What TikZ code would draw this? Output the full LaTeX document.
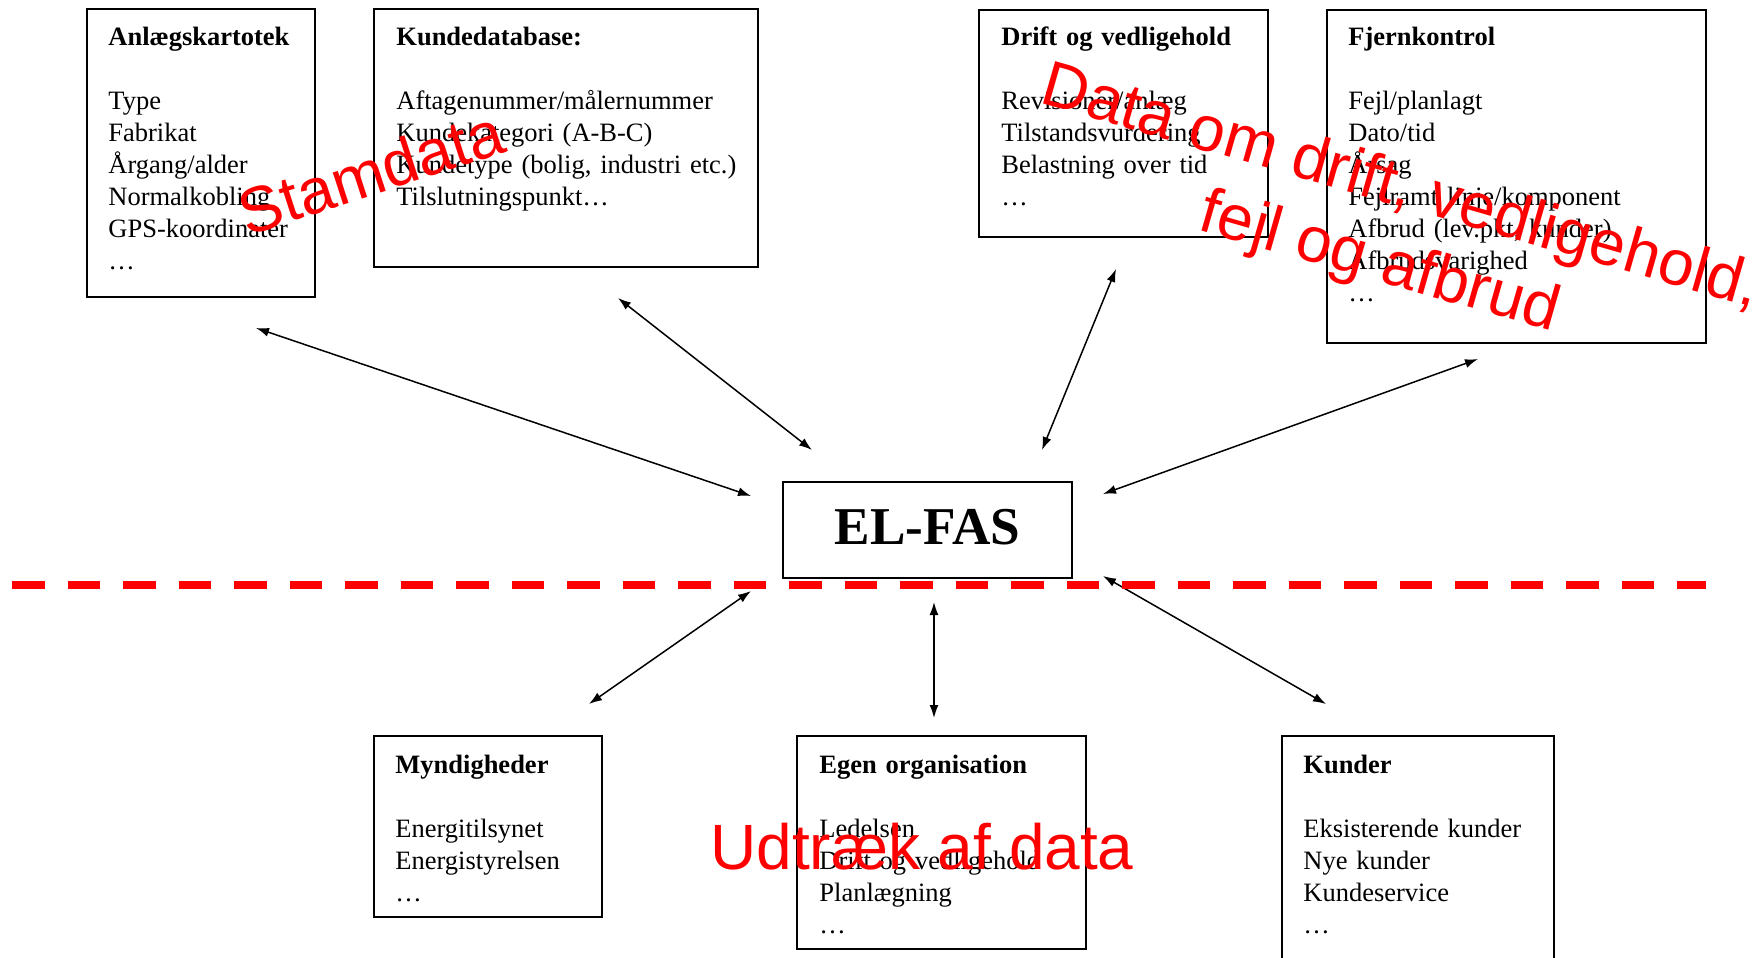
\documentclass[tikz,border=0pt]{standalone}
\usepackage{fontspec}
\setmainfont{Liberation Serif}
\newfontfamily\arialfont{Liberation Sans}
\usetikzlibrary{arrows.meta,fit}
\begin{document}
\begin{tikzpicture}[x=0.5pt,y=-0.5pt,
  boxnode/.style={draw=black, line width=1pt, inner sep=0pt},
  txt/.style={anchor=base west, inner sep=0pt, align=left, text width=300pt,
    font=\fontsize{13.25}{16}\selectfont},
  conn/.style={line width=0.75pt, {Latex[length=6.5pt,width=4.5pt]}-{Latex[length=6.5pt,width=4.5pt]}},
  redtxt/.style={text=red, inner sep=0pt, font=\arialfont\fontsize{32}{39}\selectfont},
  sepline/.style={red, line width=4pt, dash pattern=on 16.25pt off 11.5pt}
]
\useasboundingbox (0,0) rectangle (1758,958);
\clip (0,0) rectangle (1758,958);

% boxes
\node[boxnode, fit={(87,9) (315,297)}] (anl) {};
\node[boxnode, fit={(374,9) (758,267)}] (kun) {};
\node[boxnode, fit={(979,10) (1268,237)}] (dri) {};
\node[boxnode, fit={(1327,10) (1706,343)}] (fje) {};
\node[boxnode, fit={(374,736) (602,917)}] (myn) {};
\node[boxnode, fit={(797,736) (1086,949)}] (ege) {};
\node[boxnode, fit={(1282,736) (1554,990)}] (kdr) {};
\node[boxnode, fit={(783,482) (1072,578)}] (elf) {};

% box texts
\node[txt] (tanl) at (108,46) {\textbf{Anlægskartotek}\\[16pt]Type\\Fabrikat\\Årgang/alder\\Normalkobling\\GPS-koordinater\\…};
\node[txt] (tkun) at (396,46) {\textbf{Kundedatabase:}\\[16pt]Aftagenummer/målernummer\\Kundekategori (A-B-C)\\Kundetype (bolig, industri etc.)\\Tilslutningspunkt…};
\node[txt] (tdri) at (1001,46) {\textbf{Drift og vedligehold}\\[16pt]Revisioner/anlæg\\Tilstandsvurdering\\Belastning over tid\\…};
\node[txt] (tfje) at (1348,46) {\textbf{Fjernkontrol}\\[16pt]Fejl/planlagt\\Dato/tid\\Årsag\\Fejlramt linje/komponent\\Afbrud (lev.pkt, kunder)\\Afbrudsvarighed\\…};
\node[txt] (tmyn) at (395,773) {\textbf{Myndigheder}\\[16pt]Energitilsynet\\Energistyrelsen\\…};
\node[txt] (tege) at (819,773) {\textbf{Egen organisation}\\[16pt]Ledelsen\\Drift og vedligehold\\Planlægning\\…};
\node[txt] (tkdr) at (1303,773) {\textbf{Kunder}\\[16pt]Eksisterende kunder\\Nye kunder\\Kundeservice\\…};
\node[anchor=base, inner sep=0pt, font=\fontsize{26.6}{30}\selectfont\bfseries] (telf) at (927.5,544) {EL-FAS};

% arrow end points
\coordinate (a1) at (256,328);  \coordinate (b1) at (751,496);
\coordinate (a2) at (618,298);  \coordinate (b2) at (812,450);
\coordinate (a3) at (1116,269); \coordinate (b3) at (1042,450);
\coordinate (a4) at (1478,359); \coordinate (b4) at (1103,494);
\coordinate (a5) at (589,704);  \coordinate (b5) at (751,591);
\coordinate (a6) at (934,718);  \coordinate (b6) at (934,602);
\coordinate (a7) at (1326,704); \coordinate (b7) at (1103,576);

\draw[conn] (a1) -- (b1);
\draw[conn] (a2) -- (b2);
\draw[conn] (a3) -- (b3);
\draw[conn] (a4) -- (b4);
\draw[conn] (a5) -- (b5);
\draw[conn] (a6) -- (b6);
\draw[conn] (a7) -- (b7);

% red separator
\coordinate (sl) at (12,585);
\coordinate (sr) at (1706,585);
\draw[sepline] (sl) -- (sr);

% red overlay labels
\node[redtxt, rotate=18] (stam) at (371,172) {Stamdata};
\node[redtxt, rotate=-16, align=center] (drf) at (1390,227) {Data om drift, vedligehold,\\fejl og afbrud};
\node[redtxt, anchor=base] (udt) at (922,869) {Udtræk af data};
\end{tikzpicture}
\end{document}
